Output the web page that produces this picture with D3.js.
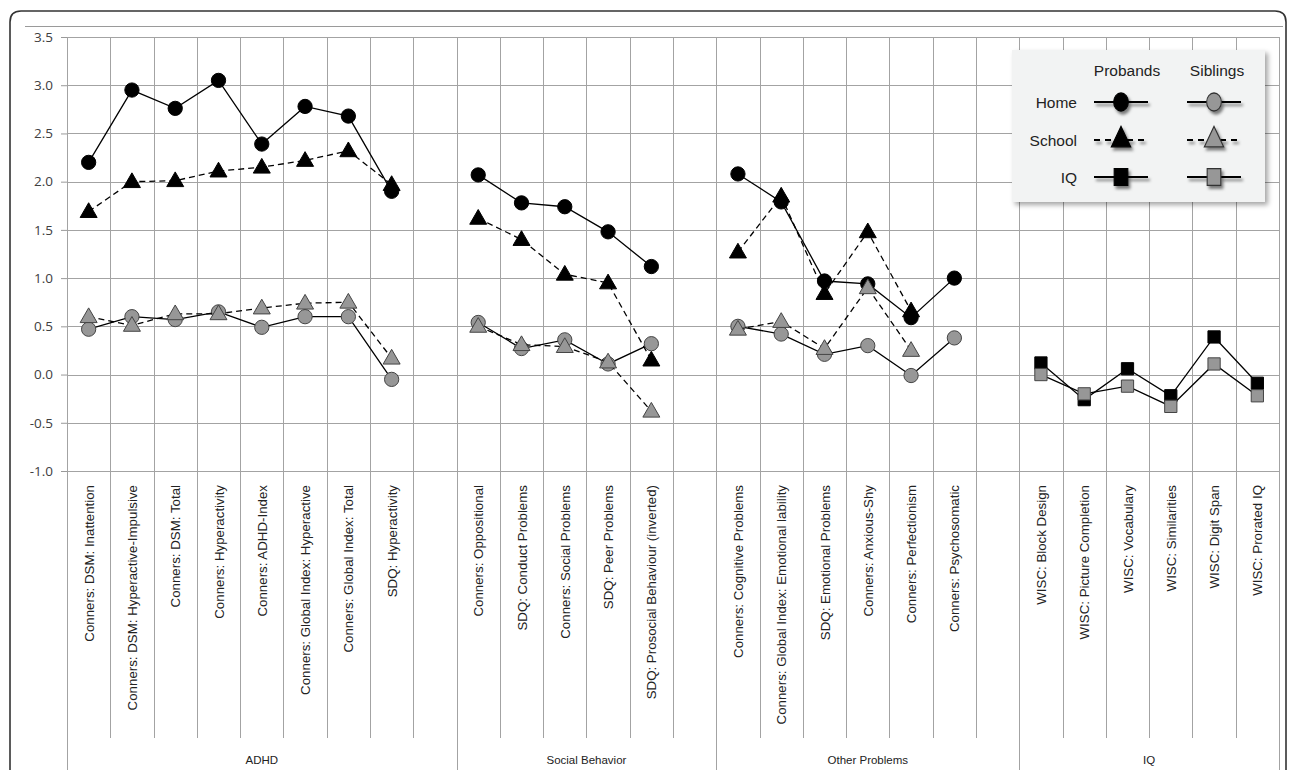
<!DOCTYPE html>
<html>
<head>
<meta charset="utf-8">
<script src="https://cdn.jsdelivr.net/npm/d3@7"></script>
<style>
  body { margin: 0; background: #fff; }
  svg { display: block; font-family: "Liberation Sans", Arial, sans-serif; }
</style>
</head>
<body>
<div class="plot"></div>
<script>
const groups = ["ADHD", "Social Behavior", "Other Problems", "IQ"];
const groupSizes = [8, 5, 6, 6];
const categories = [
    "Conners: DSM: Inattention", "Conners: DSM: Hyperactive-Impulsive", "Conners: DSM: Total",
    "Conners: Hyperactivity", "Conners: ADHD-Index", "Conners: Global Index: Hyperactive",
    "Conners: Global Index: Total", "SDQ: Hyperactivity",
    "Conners: Oppositional", "SDQ: Conduct Problems", "Conners: Social Problems",
    "SDQ: Peer Problems", "SDQ: Prosocial Behaviour (inverted)",
    "Conners: Cognitive Problems", "Conners: Global Index: Emotional lability", "SDQ: Emotional Problems",
    "Conners: Anxious-Shy", "Conners: Perfectionism", "Conners: Psychosomatic",
    "WISC: Block Design", "WISC: Picture Completion", "WISC: Vocabulary",
    "WISC: Similarities", "WISC: Digit Span", "WISC: Prorated IQ"
];
const N6 = [null, null, null, null, null, null];
const probandHome = [2.20, 2.95, 2.76, 3.05, 2.39, 2.78, 2.68, 1.90,
    2.07, 1.78, 1.74, 1.48, 1.12,
    2.08, 1.79, 0.97, 0.94, 0.59, 1.00, ...N6];
const probandSchool = [1.69, 2.00, 2.01, 2.11, 2.15, 2.22, 2.32, 1.97,
    1.62, 1.40, 1.04, 0.95, 0.15,
    1.27, 1.85, 0.84, 1.48, 0.66, null, ...N6];
const siblingHome = [0.47, 0.60, 0.57, 0.65, 0.49, 0.60, 0.60, -0.05,
    0.54, 0.27, 0.36, 0.11, 0.32,
    0.50, 0.42, 0.21, 0.30, -0.01, 0.38, ...N6];
const siblingSchool = [0.60, 0.51, 0.63, 0.63, 0.69, 0.74, 0.75, 0.17,
    0.50, 0.31, 0.29, 0.13, -0.38,
    0.47, 0.55, 0.27, 0.90, 0.25, null, ...N6];
const probandIQ = [...Array(19).fill(null), 0.12, -0.26, 0.06, -0.22, 0.39, -0.09];
const siblingIQ = [...Array(19).fill(null), 0.00, -0.20, -0.12, -0.33, 0.11, -0.22];
const yTicks = [-1.0, -0.5, 0.0, 0.5, 1.0, 1.5, 2.0, 2.5, 3.0, 3.5];

const W = 1292, H = 770;
const plotLeft = 67, plotRight = 1279, plotTop = 37, plotBottom = 471;

// columns: each group's categories plus one blank column (except last group)
const columns = [];
let ci = 0;
groups.forEach((g, gi) => {
    for (let k = 0; k < groupSizes[gi]; k++) columns.push({ key: "c" + columns.length, cat: ci++, group: gi });
    if (gi < groups.length - 1) columns.push({ key: "c" + columns.length, cat: null, group: gi });
});

const svg = d3.select(".plot").append("svg").attr("width", W).attr("height", H);

const defs = svg.append("defs");
const f1 = defs.append("filter").attr("id", "shadow").attr("x", "-20%").attr("y", "-20%").attr("width", "150%").attr("height", "150%");
f1.append("feDropShadow").attr("dx", 3).attr("dy", 3).attr("stdDeviation", 2.5).attr("flood-color", "#000").attr("flood-opacity", 0.35);
const f2 = defs.append("filter").attr("id", "mshadow").attr("x", "-50%").attr("y", "-50%").attr("width", "220%").attr("height", "220%");
f2.append("feDropShadow").attr("dx", 2).attr("dy", 3).attr("stdDeviation", 1.8).attr("flood-color", "#000").attr("flood-opacity", 0.5);

// outer frame
svg.append("path")
    .attr("d", `M10,${H} L10,22 Q10,11 21,11 L1275,11 Q1286,11 1286,22 L1286,${H}`)
    .attr("fill", "none").attr("stroke", "#333").attr("stroke-width", 1.6);
svg.append("line").attr("x1", 25).attr("x2", 1283).attr("y1", 26.5).attr("y2", 26.5)
    .attr("stroke", "#9a9a9a").attr("stroke-width", 1);

const x = d3.scaleBand().domain(columns.map(c => c.key)).range([plotLeft, plotRight]).padding(0);
const y = d3.scaleLinear().domain([-1, 3.5]).range([plotBottom, plotTop]);

// gridlines
const grid = svg.append("g").attr("stroke", "#a3a3a3").attr("stroke-width", 1);
grid.selectAll("line.h").data(yTicks).join("line")
    .attr("x1", plotLeft).attr("x2", plotRight)
    .attr("y1", d => Math.round(y(d)) + 0.5).attr("y2", d => Math.round(y(d)) + 0.5);
const bounds = columns.map(c => x(c.key)).concat([plotRight]);
grid.selectAll("line.v").data(bounds).join("line")
    .attr("x1", d => Math.round(d) + 0.5).attr("x2", d => Math.round(d) + 0.5)
    .attr("y1", plotTop).attr("y2", plotBottom);

// y axis
const yAxis = svg.append("g").attr("transform", `translate(${plotLeft},0)`)
    .call(d3.axisLeft(y).tickValues(yTicks).tickSize(6).tickPadding(8).tickFormat(d => d.toFixed(1)));
yAxis.select(".domain").remove();
yAxis.selectAll(".tick line").attr("stroke", "#999");
yAxis.selectAll(".tick text").attr("fill", "#404040").style("font-size", "13.5px")
    .style("font-family", "'Open Sans', 'Liberation Sans', sans-serif");

// category axis: separators
const groupStarts = [];
columns.forEach((c, i) => { if (i === 0 || columns[i - 1].group !== c.group) groupStarts.push(i); });
const sep = svg.append("g").attr("stroke", "#a3a3a3").attr("stroke-width", 1);
sep.selectAll("line").data(bounds.map((b, i) => ({ b, isGroup: groupStarts.includes(i) || i === columns.length })))
    .join("line")
    .attr("x1", d => Math.round(d.b) + 0.5).attr("x2", d => Math.round(d.b) + 0.5)
    .attr("y1", plotBottom).attr("y2", d => d.isGroup ? H : 738);

// category labels
svg.append("g").selectAll("text").data(columns.filter(c => c.cat !== null)).join("text")
    .attr("transform", c => `translate(${x(c.key) + x.bandwidth() / 2 + 5},${plotBottom + 14}) rotate(-90)`)
    .attr("text-anchor", "end")
    .attr("fill", "#222")
    .style("font-size", "13.3px")
    .text(c => categories[c.cat]);

// group labels
svg.append("g").selectAll("text").data(groups).join("text")
    .attr("x", (g, gi) => {
        const cols = columns.filter(c => c.group === gi);
        return (x(cols[0].key) + x(cols[cols.length - 1].key) + x.bandwidth()) / 2;
    })
    .attr("y", 764)
    .attr("text-anchor", "middle")
    .attr("fill", "#222")
    .style("font-size", "11.5px")
    .text(g => g);

// series
const series = [
    { values: probandSchool, shape: "triangle", fill: "#000", stroke: "#000", dash: "6,4" },
    { values: probandHome, shape: "circle", fill: "#000", stroke: "#000", dash: null },
    { values: siblingHome, shape: "circle", fill: "#979797", stroke: "#444", dash: null },
    { values: siblingSchool, shape: "triangle", fill: "#979797", stroke: "#444", dash: "6,4" },
    { values: probandIQ, shape: "square", fill: "#000", stroke: "#000", dash: null },
    { values: siblingIQ, shape: "square", fill: "#979797", stroke: "#444", dash: null }
];
const symbols = {
    circle: d3.symbol().type(d3.symbolCircle).size(160),
    triangle: d3.symbol().type(d3.symbolTriangle).size(125),
    square: d3.symbol().type(d3.symbolSquare).size(150)
};
const line = d3.line()
    .defined(d => d.v !== null)
    .x(d => x(d.key) + x.bandwidth() / 2)
    .y(d => y(d.v));

series.forEach(s => {
    const pts = columns.map(c => ({ key: c.key, v: c.cat === null ? null : s.values[c.cat] }));
    svg.append("path").datum(pts)
        .attr("d", line)
        .attr("fill", "none")
        .attr("stroke", "#000")
        .attr("stroke-width", 1.3)
        .attr("stroke-dasharray", s.dash);
    svg.append("g").selectAll("path").data(pts.filter(p => p.v !== null)).join("path")
        .attr("d", symbols[s.shape])
        .attr("transform", p => `translate(${x(p.key) + x.bandwidth() / 2},${y(p.v) + (s.shape === "triangle" ? 1 : 0)})`)
        .attr("fill", s.fill)
        .attr("stroke", s.stroke)
        .attr("stroke-width", 1);
});

// legend
const lg = svg.append("g");
lg.append("rect").attr("x", 1012).attr("y", 50).attr("width", 253).attr("height", 152)
    .attr("fill", "#f2f3f3").attr("filter", "url(#shadow)");
lg.append("text").attr("x", 1127).attr("y", 76).attr("text-anchor", "middle").style("font-size", "15.5px").attr("fill", "#222").text("Probands");
lg.append("text").attr("x", 1217).attr("y", 76).attr("text-anchor", "middle").style("font-size", "15.5px").attr("fill", "#222").text("Siblings");
const legendRows = [
    { label: "Home", y: 102, shape: "circle", dash: null },
    { label: "School", y: 140, shape: "triangle", dash: "6,5" },
    { label: "IQ", y: 177, shape: "square", dash: null }
];
const legendSymbols = {
    circle: d3.symbol().type(d3.symbolCircle).size(210),
    triangle: d3.symbol().type(d3.symbolTriangle).size(200),
    square: d3.symbol().type(d3.symbolSquare).size(230)
};
legendRows.forEach(r => {
    lg.append("text").attr("x", 1077).attr("y", r.y + 6).attr("text-anchor", "end")
        .style("font-size", "15.5px").attr("fill", "#222").text(r.label);
    [{ cx: 1121, fill: "#000", stroke: "#000" }, { cx: 1214, fill: "#979797", stroke: "#333" }].forEach(c => {
        const gsym = lg.append("g").attr("filter", "url(#mshadow)");
        gsym.append("line").attr("x1", c.cx - 27).attr("x2", c.cx + 27).attr("y1", r.y).attr("y2", r.y)
            .attr("stroke", "#000").attr("stroke-width", 2.2).attr("stroke-dasharray", r.dash);
        gsym.append("path").attr("d", legendSymbols[r.shape]())
            .attr("transform", `translate(${c.cx},${r.y}) scale(0.9,1.1)`)
            .attr("fill", c.fill).attr("stroke", c.stroke).attr("stroke-width", 1.2);
    });
});
</script>
</body>
</html>
